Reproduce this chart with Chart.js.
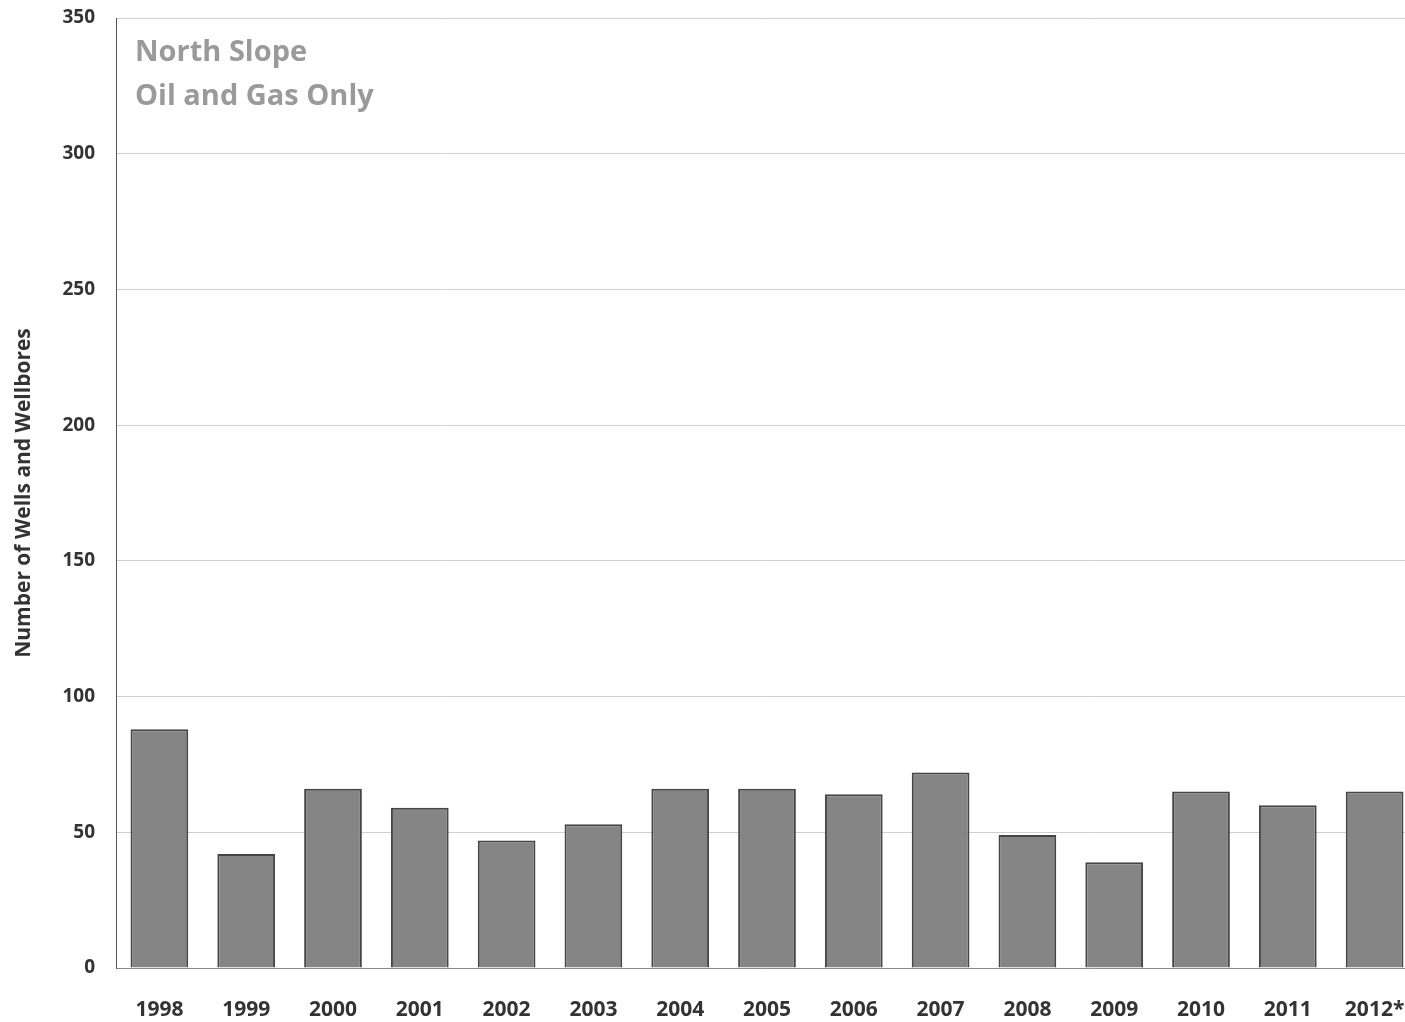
<!DOCTYPE html>
<html lang="en">
<head>
    <meta charset="UTF-8">
    <title>North Slope Wells</title>
    <script src="https://cdn.jsdelivr.net/npm/chart.js"></script>
    <style>
        html, body {
            margin: 0;
            padding: 0;
            background: white;
            overflow: hidden;
        }
        .chart-container {
            width: 1418px; /* plot runs a little past the right edge, like the scan */
            height: 1022px;
        }
    </style>
</head>
<body>
    <div class="chart-container">
        <canvas id="wellsChart"></canvas>
    </div>

    <script>
        const years = ['1998', '1999', '2000', '2001', '2002', '2003', '2004', '2005',
                       '2006', '2007', '2008', '2009', '2010', '2011', '2012*'];
        const wells = [88, 42, 66, 59, 47, 53, 66, 66, 64, 72, 49, 39, 65, 60, 65];
        const yTicks = [0, 50, 100, 150, 200, 250, 300, 350];
        const noteLines = ['North Slope', 'Oil and Gas Only'];

        const fontFamily = '"Open Sans", Lato, sans-serif';

        // draws the gray note in the top left corner of the plot
        const notePlugin = {
            id: 'note',
            afterDraw(chart) {
                const ctx = chart.ctx;
                const area = chart.chartArea;
                ctx.save();
                ctx.font = 'bold 29px ' + fontFamily;
                ctx.fillStyle = '#9a9a9a';
                ctx.textBaseline = 'middle';
                noteLines.forEach((line, i) => {
                    ctx.fillText(line, area.left + 19, area.top + 35 + i * 44);
                });
                ctx.restore();
            }
        };

        const ctx = document.getElementById('wellsChart').getContext('2d');

        new Chart(ctx, {
            type: 'bar',
            data: {
                labels: years,
                datasets: [{
                    data: wells,
                    backgroundColor: '#858585',
                    borderColor: '#454545',
                    borderWidth: 2,
                    categoryPercentage: 1,
                    barPercentage: 0.665
                }]
            },
            options: {
                responsive: true,
                maintainAspectRatio: false,
                animation: false,
                layout: { padding: { top: 18, right: 0, left: 0, bottom: 0 } },
                plugins: {
                    legend: { display: false },
                    tooltip: { enabled: false }
                },
                scales: {
                    x: {
                        grid: { display: false, drawTicks: false },
                        border: { color: '#8a8a8a', width: 1 },
                        ticks: {
                            color: '#333',
                            font: { family: fontFamily, weight: 'bold', size: 21 },
                            padding: 29,
                            maxRotation: 0
                        },
                        afterFit(scale) {
                            scale.height = 54;
                            scale.paddingLeft = 0;
                            scale.paddingRight = 0;
                        }
                    },
                    y: {
                        min: 0,
                        max: 350,
                        afterBuildTicks(scale) {
                            scale.ticks = yTicks.map(v => ({ value: v }));
                        },
                        grid: { color: '#cfcfcf', drawTicks: false },
                        border: { color: '#555', width: 1 },
                        ticks: {
                            color: '#333',
                            font: { family: fontFamily, weight: 'bold', size: 19 },
                            padding: 21
                        },
                        title: {
                            display: true,
                            text: 'Number of Wells and Wellbores',
                            color: '#333',
                            font: { family: fontFamily, weight: 'bold', size: 21 },
                            padding: { top: 11, bottom: 0 }
                        },
                        afterFit(scale) {
                            scale.width = 116;
                            scale.paddingTop = 0;
                            scale.paddingBottom = 0;
                        }
                    }
                }
            },
            plugins: [notePlugin]
        });
    </script>
</body>
</html>
